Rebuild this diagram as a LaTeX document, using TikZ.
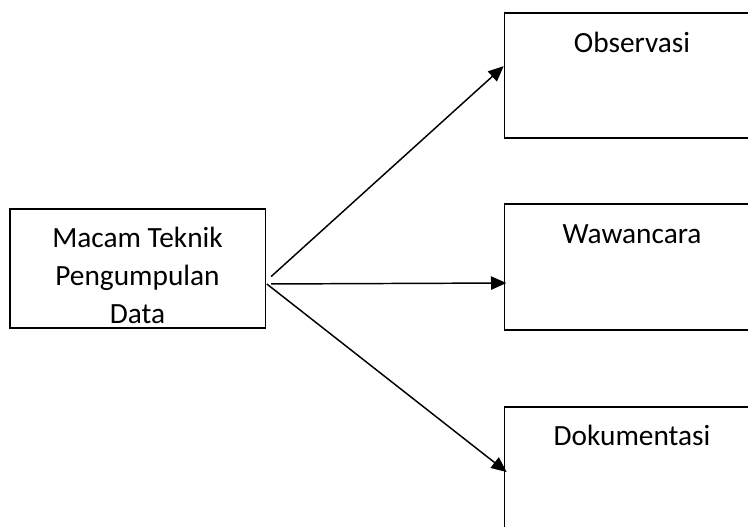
\documentclass[tikz,border=0pt]{standalone}
\usepackage{fontspec}
\setmainfont{Carlito}
\usetikzlibrary{arrows.meta}
\tikzset{
  kotak/.style={shape=rectangle,draw,line width=1pt,minimum width=191.5pt,inner sep=0pt},
  teks/.style={font=\fontsize{22}{28.5}\selectfont,inner sep=0pt},
  panah/.style={-{Triangle[length=11.5pt,width=10pt]},line width=1.1pt}
}
\begin{document}
\begin{tikzpicture}[x=0.75pt,y=-0.75pt]
\useasboundingbox (0,0) rectangle (748,526);
%%%% Add boxes
    \node[kotak,minimum height=89.25pt] (macam) at (137.5,268.5) {};
    \node[kotak,minimum height=93.75pt] (obs) at (632,75.5) {};
    \node[kotak,minimum height=94.5pt] (waw) at (632,267) {};
    \node[kotak,minimum height=94.5pt] (dok) at (632,470) {};
%%%% Add texts
    \node[teks,align=center] (macamteks) at (137.5,275) {Macam Teknik\\Pengumpulan\\Data};
    \node[teks,anchor=base] (obsteks) at (632,52) {Observasi};
    \node[teks,anchor=base] (wawteks) at (632,243) {Wawancara};
    \node[teks,anchor=base] (dokteks) at (632,445) {Dokumentasi};
%%%% Add arrows
    \draw[panah] ([xshift=4pt,yshift=-6pt]macam.east) -- ([yshift=7pt]obs.west);
    \draw[panah] ([xshift=4pt,yshift=-11.6pt]macam.east) -- ([xshift=2pt,yshift=-12pt]waw.west);
    \draw[panah] ([xshift=0.75pt,yshift=-11.6pt]macam.east) -- ([xshift=2.25pt,yshift=-1.5pt]dok.west);
\end{tikzpicture}
\end{document}
